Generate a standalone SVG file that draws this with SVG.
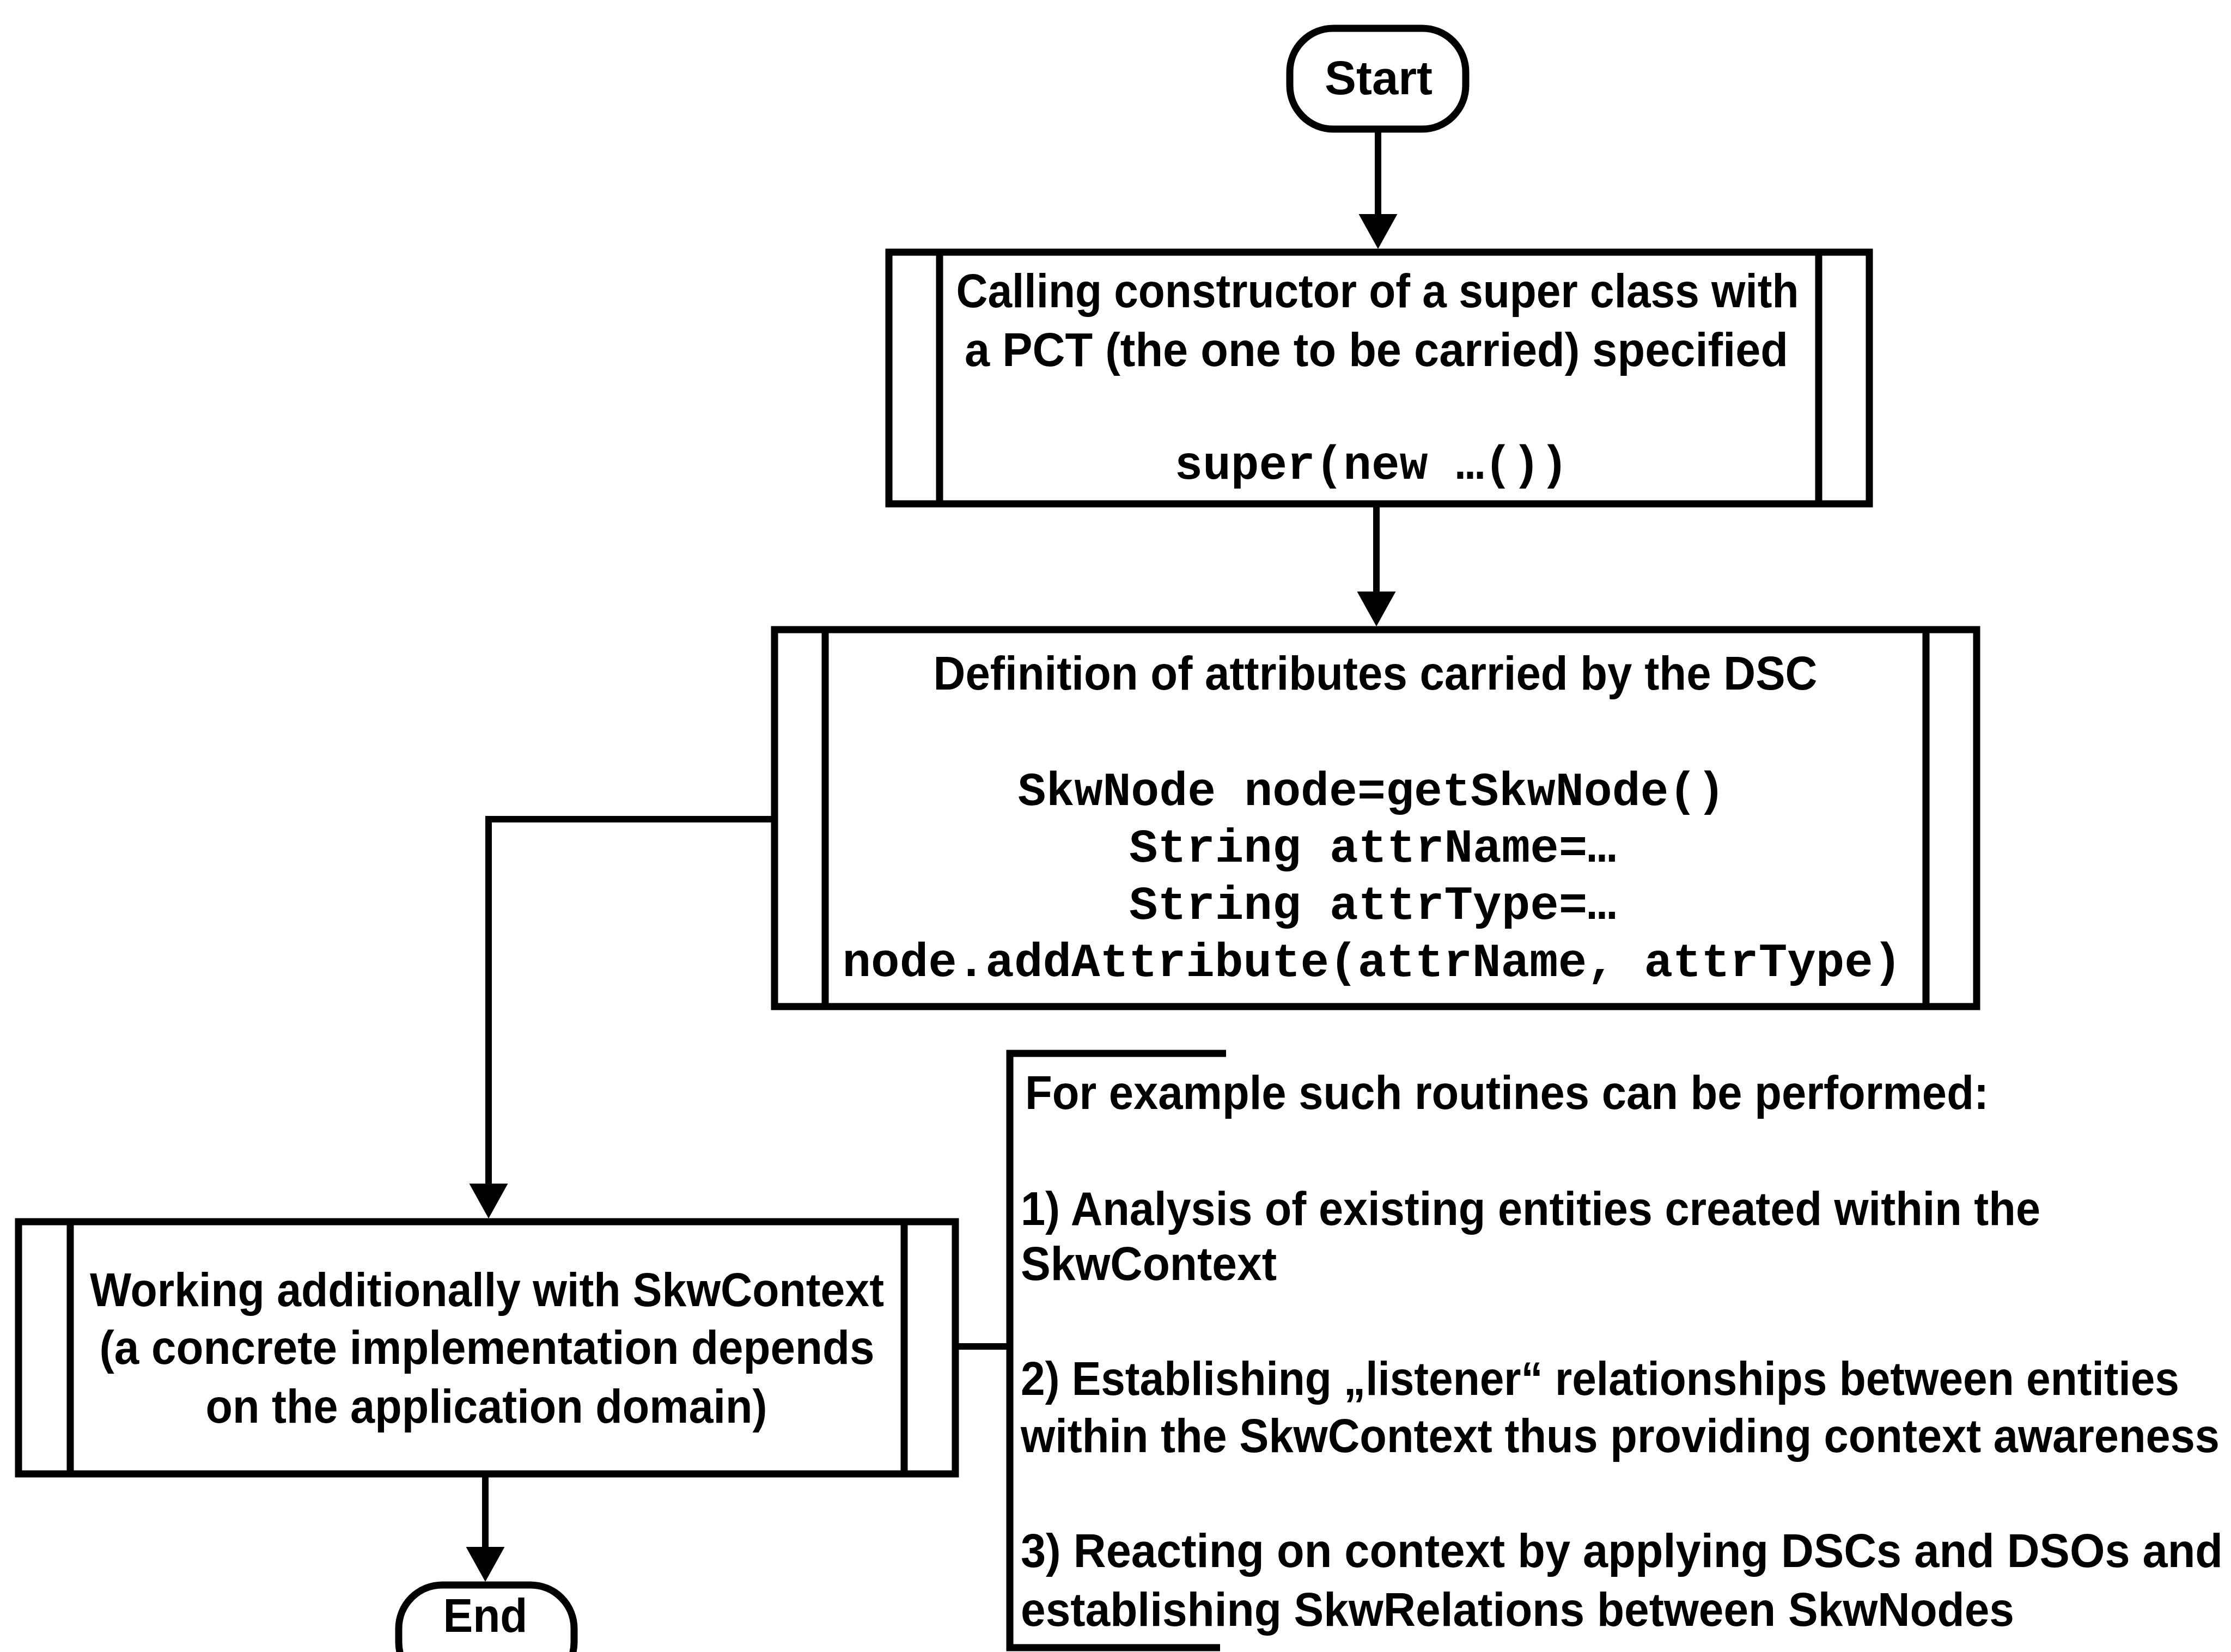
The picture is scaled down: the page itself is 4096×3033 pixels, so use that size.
<svg xmlns="http://www.w3.org/2000/svg" width="4096" height="3033" viewBox="0 0 4096 3033">
  <style>
    .frame { fill: #ffffff; stroke: #000000; stroke-width: 13; }
    .bar { fill: none; stroke: #000000; stroke-width: 13; }
    .wire { fill: none; stroke: #000000; stroke-width: 12; }
    .sans { font-family: "Liberation Sans", Arial, sans-serif; font-weight: bold; font-size: 88px; fill: #000000; }
    .term { font-family: "Liberation Sans", Arial, sans-serif; font-weight: bold; font-size: 87px; fill: #000000; text-anchor: middle; }
    .mono { font-family: "Liberation Mono", "Courier New", monospace; font-weight: bold; font-size: 87px; fill: #000000; text-anchor: middle; }
    .mid { text-anchor: middle; }
  </style>
  <defs>
    <marker id="arrow" markerUnits="userSpaceOnUse" markerWidth="64" markerHeight="71" refX="52" refY="35.5" orient="auto">
      <path d="M0,0 L64,35.5 L0,71 Z" fill="#000000"/>
    </marker>
  </defs>
  <rect width="4096" height="3033" fill="#ffffff"/>

  <!-- flow connectors -->
  <g id="connectors">
    <line class="wire" x1="2530" y1="243" x2="2530" y2="445" marker-end="url(#arrow)"/>
    <line class="wire" x1="2527" y1="931" x2="2527" y2="1138" marker-end="url(#arrow)"/>
    <path class="wire" d="M1422,1504 H897 V2225" marker-end="url(#arrow)"/>
    <line class="wire" x1="891" y1="2712" x2="891" y2="2892" marker-end="url(#arrow)"/>
    <line class="wire" x1="1760" y1="2472" x2="1854" y2="2472"/>
  </g>

  <!-- terminal: Start -->
  <g id="start">
    <rect class="frame" x="2368" y="52" width="323" height="185" rx="80" ry="80"/>
    <text class="term" x="2531" y="173" textLength="198" lengthAdjust="spacingAndGlyphs">Start</text>
  </g>

  <!-- process: call super constructor -->
  <g id="super-call">
    <rect class="frame" x="1632" y="463" width="1800" height="462"/>
    <line class="bar" x1="1725" y1="463" x2="1725" y2="925"/>
    <line class="bar" x1="3339" y1="463" x2="3339" y2="925"/>
    <text class="sans mid" x="2529" y="564" textLength="1547" lengthAdjust="spacingAndGlyphs">Calling constructor of a super class with</text>
    <text class="sans mid" x="2527" y="672" textLength="1512" lengthAdjust="spacingAndGlyphs">a PCT (the one to be carried) specified</text>
    <text class="mono" x="2518" y="879" textLength="723" lengthAdjust="spacingAndGlyphs">super(new …())</text>
  </g>

  <!-- process: attribute definition -->
  <g id="attributes">
    <rect class="frame" x="1422" y="1156" width="2207" height="692"/>
    <line class="bar" x1="1515" y1="1156" x2="1515" y2="1848"/>
    <line class="bar" x1="3536" y1="1156" x2="3536" y2="1848"/>
    <text class="sans mid" x="2525" y="1266" textLength="1623" lengthAdjust="spacingAndGlyphs">Definition of attributes carried by the DSC</text>
    <text class="mono" x="2518" y="1478" textLength="1299" lengthAdjust="spacingAndGlyphs">SkwNode node=getSkwNode()</text>
    <text class="mono" x="2520" y="1582" textLength="894" lengthAdjust="spacingAndGlyphs">String attrName=…</text>
    <text class="mono" x="2520" y="1687" textLength="894" lengthAdjust="spacingAndGlyphs">String attrType=…</text>
    <text class="mono" x="2519" y="1792" textLength="1945" lengthAdjust="spacingAndGlyphs">node.addAttribute(attrName, attrType)</text>
  </g>

  <!-- process: context handling -->
  <g id="context">
    <rect class="frame" x="34" y="2243" width="1720" height="463"/>
    <line class="bar" x1="129" y1="2243" x2="129" y2="2706"/>
    <line class="bar" x1="1660" y1="2243" x2="1660" y2="2706"/>
    <text class="sans mid" x="894" y="2398" textLength="1458" lengthAdjust="spacingAndGlyphs">Working additionally with SkwContext</text>
    <text class="sans mid" x="894" y="2504" textLength="1423" lengthAdjust="spacingAndGlyphs">(a concrete implementation depends</text>
    <text class="sans mid" x="893" y="2612" textLength="1031" lengthAdjust="spacingAndGlyphs">on the application domain)</text>
  </g>

  <!-- terminal: End -->
  <g id="end">
    <rect class="frame" x="732" y="2910" width="322" height="185" rx="80" ry="80"/>
    <text class="term" x="891" y="2996" textLength="155" lengthAdjust="spacingAndGlyphs">End</text>
  </g>

  <!-- annotation bracket with example routines -->
  <g id="note">
    <path class="bar" d="M2251,1934 H1854 V3025 H2240"/>
    <text class="sans" x="1882" y="2036" textLength="1769" lengthAdjust="spacingAndGlyphs">For example such routines can be performed:</text>
    <text class="sans" x="1874" y="2249" textLength="1872" lengthAdjust="spacingAndGlyphs">1) Analysis of existing entities created within the</text>
    <text class="sans" x="1874" y="2350" textLength="470" lengthAdjust="spacingAndGlyphs">SkwContext</text>
    <text class="sans" x="1874" y="2561" textLength="2127" lengthAdjust="spacingAndGlyphs">2) Establishing „listener“ relationships between entities</text>
    <text class="sans" x="1874" y="2666" textLength="2201" lengthAdjust="spacingAndGlyphs">within the SkwContext thus providing context awareness</text>
    <text class="sans" x="1874" y="2877" textLength="2207" lengthAdjust="spacingAndGlyphs">3) Reacting on context by applying DSCs and DSOs and</text>
    <text class="sans" x="1874" y="2985" textLength="1824" lengthAdjust="spacingAndGlyphs">establishing SkwRelations between SkwNodes</text>
  </g>
</svg>
